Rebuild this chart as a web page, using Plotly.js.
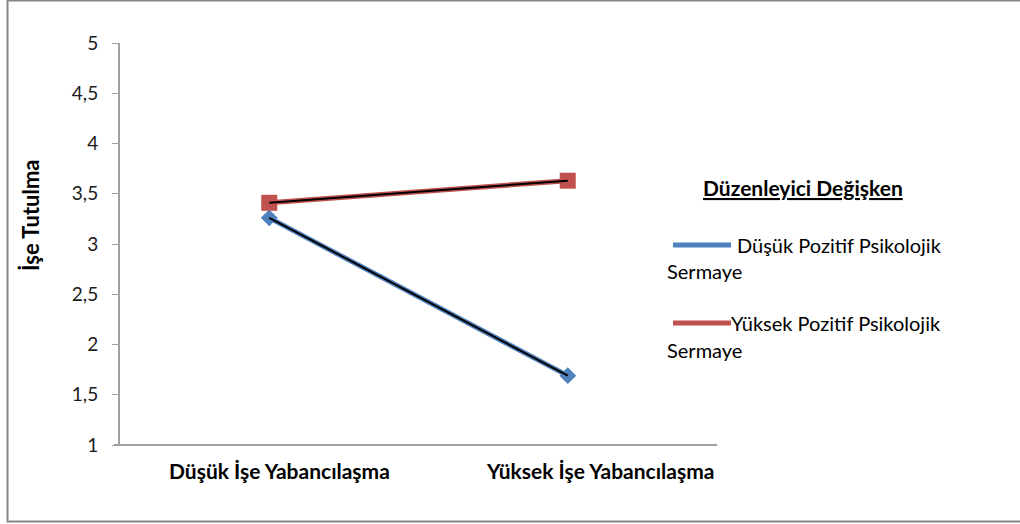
<!DOCTYPE html>
<html>
<head>
<meta charset="utf-8">
<script src="https://cdn.plot.ly/plotly-3.0.1.min.js"></script>
<style>html,body{margin:0;padding:0;background:#fff;}#chart{width:1020px;height:524px;}</style>
</head>
<body>
<div id="chart"></div>
<script>
const categories = ["Düşük İşe Yabancılaşma", "Yüksek İşe Yabancılaşma"];
const seriesNames = ["Düşük Pozitif Psikolojik Sermaye", "Yüksek Pozitif Psikolojik Sermaye"];
const lowPsyCap = [3.26, 1.69];
const highPsyCap = [3.41, 3.63];
const yTickVals = [1, 1.5, 2, 2.5, 3, 3.5, 4, 4.5, 5];
const yTickText = ["1", "1,5", "2", "2,5", "3", "3,5", "4", "4,5", "5"];
const legendTitle = "Düzenleyici Değişken";
const yTitle = "İşe Tutulma";

const W = 1020, H = 524;
const L = 120, R = 717, T = 43, B = 445;
const px = v => (v - L) / (R - L);
const py = v => (B - v) / (B - T);
const FONT = "Lato, 'Open Sans', sans-serif";
const BLUE = "#4F81BD", RED = "#C0504D";

const traces = [
  {x: categories, y: lowPsyCap, type: "scatter", mode: "lines+markers", name: seriesNames[0],
   line: {color: BLUE, width: 5}, marker: {symbol: "diamond", size: 13, color: BLUE}, showlegend: false, hoverinfo: "y"},
  {x: categories, y: highPsyCap, type: "scatter", mode: "lines+markers", name: seriesNames[1],
   line: {color: RED, width: 5}, marker: {symbol: "square", size: 16, color: RED}, showlegend: false, hoverinfo: "y"},
  {x: categories, y: lowPsyCap, type: "scatter", mode: "lines", line: {color: "#000", width: 2}, showlegend: false, hoverinfo: "skip"},
  {x: categories, y: highPsyCap, type: "scatter", mode: "lines", line: {color: "#000", width: 2}, showlegend: false, hoverinfo: "skip"}
];

const annotations = [
  {xref: "paper", yref: "paper", x: px(279), y: py(470), text: "<b>" + categories[0] + "</b>", showarrow: false,
   xanchor: "center", yanchor: "middle", font: {family: FONT, size: 21, color: "#000"}},
  {xref: "paper", yref: "paper", x: px(600), y: py(470), text: "<b>" + categories[1] + "</b>", showarrow: false,
   xanchor: "center", yanchor: "middle", font: {family: FONT, size: 21, color: "#000"}},
  {xref: "paper", yref: "paper", x: px(30), y: py(215), text: "<b>" + yTitle + "</b>", showarrow: false, textangle: -90,
   xanchor: "center", yanchor: "middle", font: {family: FONT, size: 22, color: "#000"}},
  {xref: "paper", yref: "paper", x: px(803), y: py(187), text: "<b><u>" + legendTitle + "</u></b>", showarrow: false,
   xanchor: "center", yanchor: "middle", font: {family: FONT, size: 21, color: "#000"}},
  {xref: "paper", yref: "paper", x: px(735), y: py(245), text: "Düşük Pozitif Psikolojik", showarrow: false,
   xanchor: "left", yanchor: "middle", font: {family: FONT, size: 20, color: "#000"}},
  {xref: "paper", yref: "paper", x: px(665), y: py(271), text: "Sermaye", showarrow: false,
   xanchor: "left", yanchor: "middle", font: {family: FONT, size: 20, color: "#000"}},
  {xref: "paper", yref: "paper", x: px(729), y: py(323), text: "Yüksek Pozitif Psikolojik", showarrow: false,
   xanchor: "left", yanchor: "middle", font: {family: FONT, size: 20, color: "#000"}},
  {xref: "paper", yref: "paper", x: px(665), y: py(350), text: "Sermaye", showarrow: false,
   xanchor: "left", yanchor: "middle", font: {family: FONT, size: 20, color: "#000"}}
];

const shapes = [
  {type: "rect", xref: "paper", yref: "paper", x0: px(7.5), x1: px(1022), y0: py(0.5), y1: py(521.5),
   line: {color: "#868686", width: 2}, fillcolor: "rgba(0,0,0,0)"},
  {type: "line", xref: "paper", yref: "paper", x0: px(114), x1: px(717), y0: 0, y1: 0, line: {color: "#A0A0A0", width: 2}},
  {type: "line", xref: "paper", yref: "paper", x0: px(673), x1: px(731), y0: py(245), y1: py(245), line: {color: BLUE, width: 5}},
  {type: "line", xref: "paper", yref: "paper", x0: px(673), x1: px(731), y0: py(323), y1: py(323), line: {color: RED, width: 5}}
];

const layout = {
  width: W, height: H,
  margin: {l: L, r: W - R, t: T, b: H - B, pad: 0},
  paper_bgcolor: "#fff", plot_bgcolor: "#fff",
  showlegend: false,
  font: {family: FONT, color: "#000"},
  xaxis: {type: "category", range: [-0.5, 1.5], showgrid: false, zeroline: false, showline: false,
          ticks: "", showticklabels: false, fixedrange: true},
  yaxis: {range: [1, 5], tickvals: yTickVals, ticktext: yTickText, showgrid: false, zeroline: false,
          showline: true, linecolor: "#A0A0A0", linewidth: 2, ticks: "outside", ticklen: 6, tickcolor: "#A0A0A0", tickwidth: 1,
          tickfont: {family: FONT, size: 19, color: "#1a1a1a"}, ticklabelstandoff: 10, fixedrange: true},
  annotations: annotations,
  shapes: shapes
};

Plotly.newPlot("chart", traces, layout, {displayModeBar: false, staticPlot: true});
</script>
</body>
</html>
